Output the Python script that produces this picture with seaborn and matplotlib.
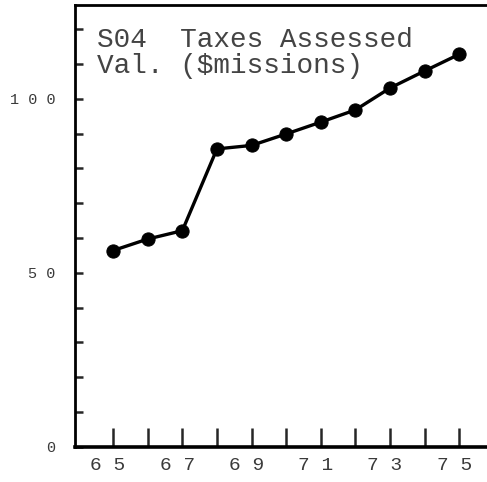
import numpy as np
import pandas as pd
import seaborn as sns
import matplotlib.pyplot as plt
import matplotlib.transforms as mtransforms

# SO4 taxes, assessed valuation ($ millions)
years = [65, 66, 67, 68, 69, 70, 71, 72, 73, 74, 75]
values = [56.4, 59.7, 62.1, 85.6, 86.6, 89.9, 93.3, 96.8, 103.1, 108.0, 112.8]

xtick_labels = ["6 5", "", "6 7", "", "6 9", "", "7 1", "", "7 3", "", "7 5"]
ytick_major = [0, 50, 100]
ytick_labels = ["0", "5 0", "1 0 0"]
ytick_minor = [10, 20, 30, 40, 60, 70, 80, 90, 110, 120]

title_text = "S04  Taxes Assessed\nVal. ($missions)"

df = pd.DataFrame({"year": years, "value": values})

sns.set_style("ticks")
plt.rcParams["font.family"] = ["Liberation Mono", "DejaVu Sans Mono"]

fig = plt.figure(figsize=(4.87, 4.82), dpi=100)
ax = fig.add_axes([0.154, 0.073, 0.846, 0.917])

sns.lineplot(data=df, x="year", y="value", ax=ax, color="black",
             linewidth=2.4, marker="o", markersize=9.5,
             markeredgecolor="black", markerfacecolor="black")

ax.set_xlim(63.9, 75.8)
ax.set_ylim(0, 127)

ax.set_xticks(years)
ax.set_xticklabels(xtick_labels, fontsize=14, color="#3a3a3a")
ax.set_yticks(ytick_major)
ax.set_yticklabels(ytick_labels, fontsize=11, color="#3a3a3a")
ax.set_yticks(ytick_minor, minor=True)

ax.tick_params(axis="x", direction="in", length=14, width=1.8, pad=7)
ax.tick_params(axis="y", which="both", direction="in", length=6, width=1.8, pad=14)

# typed labels sit a little left of the tick marks
shift = mtransforms.ScaledTranslation(-5 / 100, 0, fig.dpi_scale_trans)
for lbl in ax.get_xticklabels():
    lbl.set_transform(lbl.get_transform() + shift)

for side in ["left", "top"]:
    ax.spines[side].set_linewidth(2)
    ax.spines[side].set_color("black")
ax.spines["bottom"].set_linewidth(2.6)
ax.spines["bottom"].set_color("black")
ax.spines["right"].set_visible(False)

ax.set_xlabel("")
ax.set_ylabel("")

ax.text(0.053, 0.95, title_text, transform=ax.transAxes, fontsize=20,
        va="top", ha="left", linespacing=1.0, color="#444444")

fig.savefig("out.png", dpi=100)
